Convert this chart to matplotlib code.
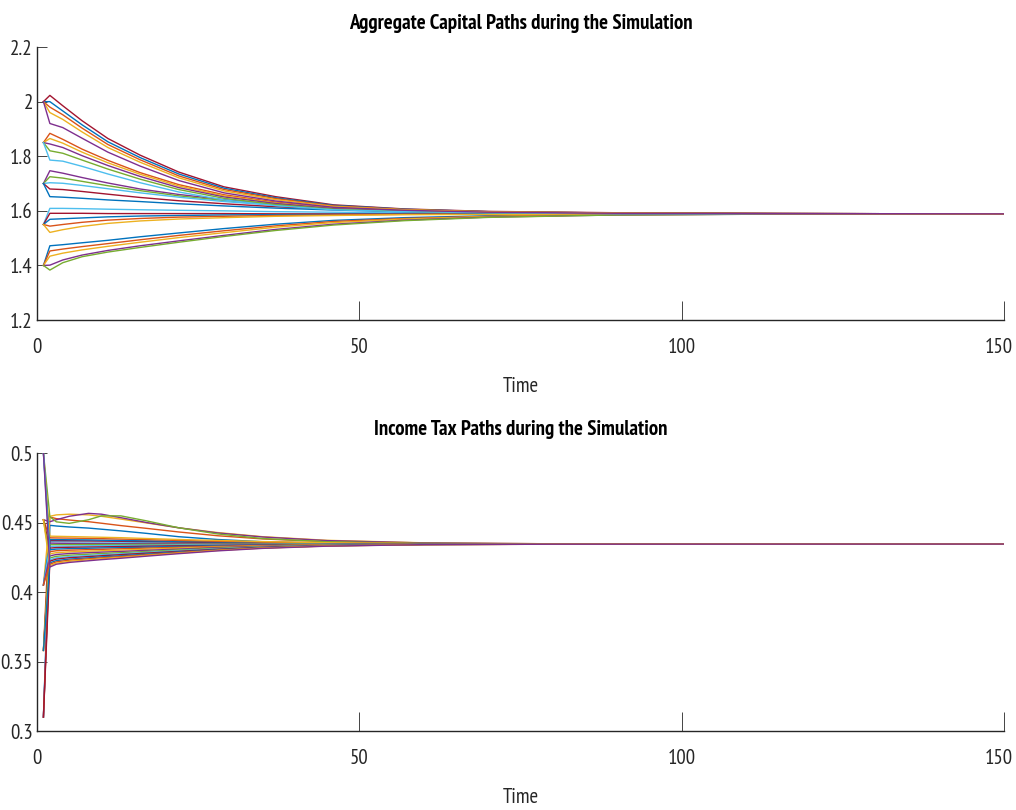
import matplotlib
matplotlib.use('Agg')
import matplotlib.pyplot as plt
from matplotlib import font_manager
from matplotlib.transforms import ScaledTranslation

# MATLAB default line colour order
COLORS = ['#0072BD', '#D95319', '#EDB120', '#7E2F8E', '#77AC30', '#4DBEEE', '#A2142F']

# ---------------- aggregate capital paths ----------------
cap_time = [1, 2, 4, 7, 11, 16, 22, 29, 37, 46, 57, 70, 90, 115, 150]

cap_from_140 = [
    [1.40, 1.472, 1.476, 1.483, 1.492, 1.505, 1.519, 1.535, 1.551, 1.565, 1.575, 1.582, 1.587, 1.588, 1.589],
    [1.40, 1.453, 1.460, 1.469, 1.480, 1.494, 1.510, 1.527, 1.545, 1.561, 1.572, 1.580, 1.586, 1.588, 1.589],
    [1.40, 1.434, 1.445, 1.457, 1.470, 1.485, 1.502, 1.520, 1.540, 1.557, 1.570, 1.579, 1.586, 1.588, 1.589],
    [1.40, 1.401, 1.420, 1.438, 1.455, 1.472, 1.490, 1.510, 1.532, 1.551, 1.566, 1.577, 1.585, 1.588, 1.589],
    [1.40, 1.383, 1.410, 1.432, 1.449, 1.466, 1.485, 1.506, 1.528, 1.548, 1.564, 1.576, 1.585, 1.588, 1.589],
]
cap_from_155 = [
    [1.55, 1.609, 1.609, 1.608, 1.606, 1.604, 1.602, 1.600, 1.597, 1.595, 1.593, 1.591, 1.590, 1.589, 1.589],
    [1.55, 1.591, 1.591, 1.591, 1.590, 1.590, 1.590, 1.590, 1.589, 1.589, 1.589, 1.589, 1.589, 1.589, 1.589],
    [1.55, 1.569, 1.571, 1.574, 1.578, 1.581, 1.583, 1.585, 1.586, 1.587, 1.588, 1.588, 1.589, 1.589, 1.589],
    [1.55, 1.544, 1.550, 1.558, 1.566, 1.572, 1.577, 1.580, 1.583, 1.585, 1.587, 1.588, 1.589, 1.589, 1.589],
    [1.55, 1.521, 1.531, 1.543, 1.554, 1.563, 1.570, 1.575, 1.580, 1.583, 1.586, 1.587, 1.588, 1.589, 1.589],
]
cap_from_170 = [
    [1.70, 1.747, 1.738, 1.722, 1.702, 1.680, 1.660, 1.641, 1.624, 1.610, 1.600, 1.594, 1.591, 1.590, 1.589],
    [1.70, 1.725, 1.720, 1.708, 1.692, 1.674, 1.655, 1.638, 1.622, 1.609, 1.600, 1.594, 1.591, 1.589, 1.589],
    [1.70, 1.703, 1.701, 1.693, 1.681, 1.666, 1.650, 1.634, 1.620, 1.607, 1.599, 1.593, 1.590, 1.589, 1.589],
    [1.70, 1.680, 1.678, 1.671, 1.661, 1.649, 1.637, 1.626, 1.615, 1.606, 1.598, 1.593, 1.590, 1.589, 1.589],
    [1.70, 1.652, 1.650, 1.646, 1.640, 1.634, 1.626, 1.618, 1.610, 1.603, 1.597, 1.592, 1.590, 1.589, 1.589],
]
cap_from_185 = [
    [1.85, 1.884, 1.862, 1.826, 1.785, 1.740, 1.696, 1.659, 1.632, 1.611, 1.601, 1.595, 1.591, 1.590, 1.589],
    [1.85, 1.865, 1.848, 1.815, 1.776, 1.734, 1.691, 1.655, 1.629, 1.610, 1.600, 1.594, 1.591, 1.590, 1.589],
    [1.85, 1.845, 1.832, 1.802, 1.766, 1.726, 1.685, 1.651, 1.627, 1.608, 1.599, 1.594, 1.591, 1.590, 1.589],
    [1.85, 1.820, 1.811, 1.786, 1.753, 1.716, 1.678, 1.646, 1.623, 1.606, 1.598, 1.593, 1.591, 1.589, 1.589],
    [1.85, 1.786, 1.782, 1.763, 1.735, 1.703, 1.669, 1.640, 1.619, 1.604, 1.597, 1.593, 1.590, 1.589, 1.589],
]
cap_from_200 = [
    [2.00, 2.023, 1.985, 1.930, 1.865, 1.804, 1.742, 1.688, 1.652, 1.622, 1.607, 1.598, 1.593, 1.590, 1.589],
    [2.00, 2.000, 1.966, 1.915, 1.853, 1.795, 1.735, 1.683, 1.648, 1.620, 1.606, 1.597, 1.592, 1.590, 1.589],
    [2.00, 1.980, 1.952, 1.903, 1.843, 1.787, 1.728, 1.678, 1.645, 1.618, 1.605, 1.597, 1.592, 1.590, 1.589],
    [2.00, 1.960, 1.935, 1.889, 1.832, 1.778, 1.721, 1.673, 1.641, 1.616, 1.604, 1.596, 1.592, 1.590, 1.589],
    [2.00, 1.920, 1.905, 1.866, 1.815, 1.764, 1.711, 1.666, 1.636, 1.613, 1.602, 1.595, 1.591, 1.590, 1.589],
]

# ---------------- income tax paths ----------------
tax_time = [1, 2, 3, 5, 8, 10, 13, 17, 22, 28, 35, 45, 60, 80, 150]

tax_from_140 = [
    [0.310, 0.4480, 0.4475, 0.4468, 0.4460, 0.4452, 0.4440, 0.4422, 0.4398, 0.4378, 0.4362, 0.4352, 0.4347, 0.4345, 0.4345],
    [0.358, 0.4540, 0.4528, 0.4518, 0.4506, 0.4495, 0.4478, 0.4458, 0.4432, 0.4405, 0.4382, 0.4362, 0.4350, 0.4346, 0.4345],
    [0.405, 0.4545, 0.4555, 0.4560, 0.4555, 0.4545, 0.4525, 0.4497, 0.4462, 0.4428, 0.4398, 0.4372, 0.4354, 0.4347, 0.4345],
    [0.452, 0.4506, 0.4520, 0.4545, 0.4566, 0.4560, 0.4535, 0.4500, 0.4462, 0.4425, 0.4396, 0.4370, 0.4353, 0.4347, 0.4345],
    [0.500, 0.4542, 0.4505, 0.4494, 0.4520, 0.4548, 0.4548, 0.4512, 0.4462, 0.4418, 0.4385, 0.4362, 0.4350, 0.4346, 0.4345],
]
tax_from_155 = [
    [0.310, 0.4362, 0.4362, 0.4361, 0.4360, 0.4360, 0.4359, 0.4357, 0.4355, 0.4353, 0.4351, 0.4348, 0.4346, 0.4345, 0.4345],
    [0.358, 0.4370, 0.4370, 0.4369, 0.4368, 0.4367, 0.4365, 0.4363, 0.4360, 0.4356, 0.4353, 0.4350, 0.4347, 0.4345, 0.4345],
    [0.405, 0.4378, 0.4377, 0.4376, 0.4375, 0.4373, 0.4371, 0.4368, 0.4364, 0.4360, 0.4356, 0.4351, 0.4347, 0.4345, 0.4345],
    [0.452, 0.4390, 0.4389, 0.4388, 0.4386, 0.4384, 0.4381, 0.4377, 0.4371, 0.4365, 0.4359, 0.4353, 0.4348, 0.4346, 0.4345],
    [0.500, 0.4402, 0.4401, 0.4399, 0.4396, 0.4394, 0.4391, 0.4385, 0.4378, 0.4371, 0.4363, 0.4355, 0.4348, 0.4346, 0.4345],
]
tax_from_170 = [
    [0.310, 0.4352, 0.4351, 0.4350, 0.4349, 0.4349, 0.4348, 0.4348, 0.4347, 0.4346, 0.4346, 0.4345, 0.4345, 0.4345, 0.4345],
    [0.358, 0.4340, 0.4341, 0.4341, 0.4342, 0.4342, 0.4342, 0.4343, 0.4343, 0.4344, 0.4344, 0.4345, 0.4345, 0.4345, 0.4345],
    [0.405, 0.4328, 0.4330, 0.4331, 0.4333, 0.4334, 0.4335, 0.4336, 0.4338, 0.4340, 0.4342, 0.4344, 0.4345, 0.4345, 0.4345],
    [0.452, 0.4316, 0.4320, 0.4322, 0.4324, 0.4325, 0.4327, 0.4330, 0.4333, 0.4336, 0.4339, 0.4342, 0.4344, 0.4345, 0.4345],
    [0.500, 0.4304, 0.4309, 0.4312, 0.4315, 0.4317, 0.4319, 0.4323, 0.4328, 0.4333, 0.4337, 0.4341, 0.4344, 0.4345, 0.4345],
]
tax_from_185 = [
    [0.310, 0.4290, 0.4297, 0.4301, 0.4305, 0.4307, 0.4311, 0.4316, 0.4322, 0.4329, 0.4335, 0.4340, 0.4344, 0.4345, 0.4345],
    [0.358, 0.4275, 0.4283, 0.4289, 0.4294, 0.4297, 0.4302, 0.4308, 0.4316, 0.4324, 0.4332, 0.4339, 0.4343, 0.4345, 0.4345],
    [0.405, 0.4260, 0.4270, 0.4277, 0.4283, 0.4287, 0.4292, 0.4300, 0.4309, 0.4320, 0.4329, 0.4337, 0.4343, 0.4345, 0.4345],
    [0.452, 0.4245, 0.4257, 0.4265, 0.4272, 0.4277, 0.4283, 0.4292, 0.4303, 0.4315, 0.4326, 0.4336, 0.4343, 0.4345, 0.4345],
    [0.500, 0.4232, 0.4246, 0.4255, 0.4263, 0.4268, 0.4275, 0.4285, 0.4298, 0.4311, 0.4324, 0.4335, 0.4342, 0.4345, 0.4345],
]
tax_from_200 = [
    [0.310, 0.4222, 0.4237, 0.4247, 0.4255, 0.4261, 0.4269, 0.4280, 0.4293, 0.4308, 0.4322, 0.4334, 0.4342, 0.4344, 0.4345],
    [0.358, 0.4210, 0.4226, 0.4237, 0.4246, 0.4253, 0.4261, 0.4273, 0.4288, 0.4305, 0.4319, 0.4333, 0.4342, 0.4344, 0.4345],
    [0.405, 0.4200, 0.4217, 0.4229, 0.4239, 0.4246, 0.4255, 0.4268, 0.4284, 0.4302, 0.4317, 0.4332, 0.4341, 0.4344, 0.4345],
    [0.452, 0.4190, 0.4208, 0.4221, 0.4232, 0.4240, 0.4249, 0.4263, 0.4280, 0.4299, 0.4316, 0.4331, 0.4341, 0.4344, 0.4345],
    [0.500, 0.4180, 0.4200, 0.4213, 0.4225, 0.4233, 0.4243, 0.4258, 0.4276, 0.4296, 0.4314, 0.4330, 0.4341, 0.4344, 0.4345],
]

x_ticks = [0, 50, 100, 150]
cap_ticks = [1.2, 1.4, 1.6, 1.8, 2.0, 2.2]
cap_tick_labels = ['1.2', '1.4', '1.6', '1.8', '2', '2.2']
tax_ticks = [0.3, 0.35, 0.4, 0.45, 0.5]
tax_tick_labels = ['0.3', '0.35', '0.4', '0.45', '0.5']


def pick_font():
    # narrow sans looks closest to the squeezed MATLAB output
    names = {f.name for f in font_manager.fontManager.ttflist}
    for name in ['PT Sans Narrow', 'Liberation Sans Narrow', 'Archivo Narrow',
                 'Roboto Condensed', 'Liberation Sans']:
        if name in names:
            return name
    return 'DejaVu Sans'


def style_axes(fig, ax, xticks, yticks, ylabels, ylim, title):
    ax.set_xlim(0, 150)
    ax.set_ylim(*ylim)
    ax.spines['top'].set_visible(False)
    ax.spines['right'].set_visible(False)
    for s in ['left', 'bottom']:
        ax.spines[s].set_color('#262626')
        ax.spines[s].set_linewidth(1.0)
    ax.set_xticks(xticks)
    ax.set_xticklabels([str(v) for v in xticks])
    ax.set_yticks(yticks)
    ax.set_yticklabels(ylabels)
    ax.tick_params(axis='x', direction='in', length=14, width=0.6, color='#262626',
                   labelsize=15, labelcolor='#262626', pad=13)
    ax.tick_params(axis='y', direction='in', length=7, width=0.6, color='#262626',
                   labelsize=15, labelcolor='#262626', pad=3)
    # keep the last x label inside the figure edge
    last = ax.get_xticklabels()[-1]
    last.set_transform(last.get_transform() + ScaledTranslation(-4 / 72, 0, fig.dpi_scale_trans))
    ax.set_xlabel('Time', fontsize=15, color='#262626', labelpad=14)
    ax.set_title(title, fontsize=15, fontweight='bold', pad=13)


def draw_paths(ax, times, groups):
    k = 0
    for group in groups:
        for path in group:
            ax.plot(times, path, color=COLORS[k % len(COLORS)], lw=1.0)
            k += 1


def main():
    plt.rcParams['font.family'] = [pick_font(), 'DejaVu Sans']

    fig = plt.figure(figsize=(10.16, 8.10), dpi=100)
    ax1 = fig.add_axes([0.0364, 0.6049, 0.9518, 0.3370])
    ax2 = fig.add_axes([0.0364, 0.0975, 0.9518, 0.3432])

    draw_paths(ax1, cap_time, [cap_from_140, cap_from_155, cap_from_170, cap_from_185, cap_from_200])
    style_axes(fig, ax1, x_ticks, cap_ticks, cap_tick_labels, (1.2, 2.2),
               'Aggregate Capital Paths during the Simulation')

    draw_paths(ax2, tax_time, [tax_from_140, tax_from_155, tax_from_170, tax_from_185, tax_from_200])
    style_axes(fig, ax2, x_ticks, tax_ticks, tax_tick_labels, (0.3, 0.5),
               'Income Tax Paths during the Simulation')

    fig.savefig('out.png', dpi=100)
    plt.close(fig)


if __name__ == "__main__":
    main()
